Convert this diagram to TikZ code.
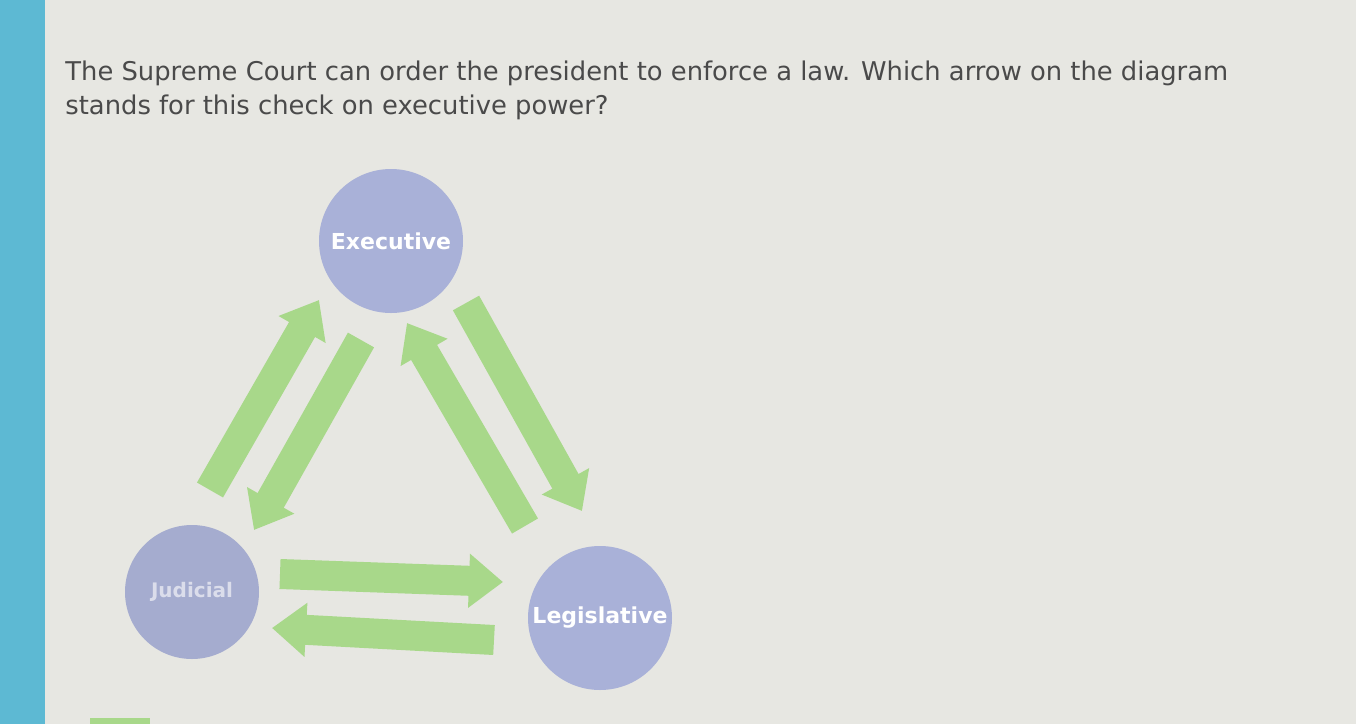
\documentclass[tikz,border=0pt]{standalone}
\usepackage{fontspec}
\setmainfont{DejaVu Sans}
\usetikzlibrary{arrows.meta}

\definecolor{paper}{HTML}{E7E7E2}
\definecolor{strip}{HTML}{5DB9D3}
\definecolor{inkgray}{HTML}{4A4A4A}
\definecolor{branchblue}{HTML}{A9B1D8}
\definecolor{checkgreen}{HTML}{A8D88A}

\begin{document}
\begin{tikzpicture}[x=0.5pt,y=-0.5pt]
   \tikzstyle{branch}=[circle, fill=branchblue, text=white, font=\fontsize{11}{13}\selectfont\bfseries, inner sep=0pt]
   \tikzstyle{check}=[draw=checkgreen, line width=15pt, -{Triangle[width=26pt,length=17pt]}]

% page
\fill[paper] (0,0) rectangle (1356,724);
\useasboundingbox (0,0) rectangle (1356,724);
\fill[strip] (0,0) rectangle (45,724);
\fill[checkgreen] (90,718) rectangle (150,724);

\node[anchor=north west, inner sep=0pt, align=left, text=inkgray, font=\fontsize{12.9}{17}\selectfont] (question) at (65,60)
   {The Supreme Court can order the president to enforce a law. Which arrow on the diagram\\
    stands for this check on executive power?};

% branches
\node[branch, minimum size=72pt] (exec) at (391,241) {Executive};
\node[branch, minimum size=67pt, fill=branchblue!90!gray, text opacity=0.6, font=\fontsize{10}{12}\selectfont\bfseries] (jud) at (192,592) {Judicial};
\node[branch, minimum size=72pt] (leg) at (600,618) {Legislative};

% arrow ends
\coordinate (je1) at (210,490);  \coordinate (je2) at (319,300);
\coordinate (ej1) at (361,340);  \coordinate (ej2) at (254,530);
\coordinate (le1) at (525,526);  \coordinate (le2) at (407,323);
\coordinate (el1) at (466,303);  \coordinate (el2) at (582,511);
\coordinate (jl1) at (280,574);  \coordinate (jl2) at (503,582);
\coordinate (lj1) at (494,640);  \coordinate (lj2) at (272,628);

\draw[check] (je1) -- (je2);
\draw[check] (ej1) -- (ej2);
\draw[check] (le1) -- (le2);
\draw[check] (el1) -- (el2);
\draw[check] (jl1) -- (jl2);
\draw[check] (lj1) -- (lj2);

\end{tikzpicture}
\end{document}
